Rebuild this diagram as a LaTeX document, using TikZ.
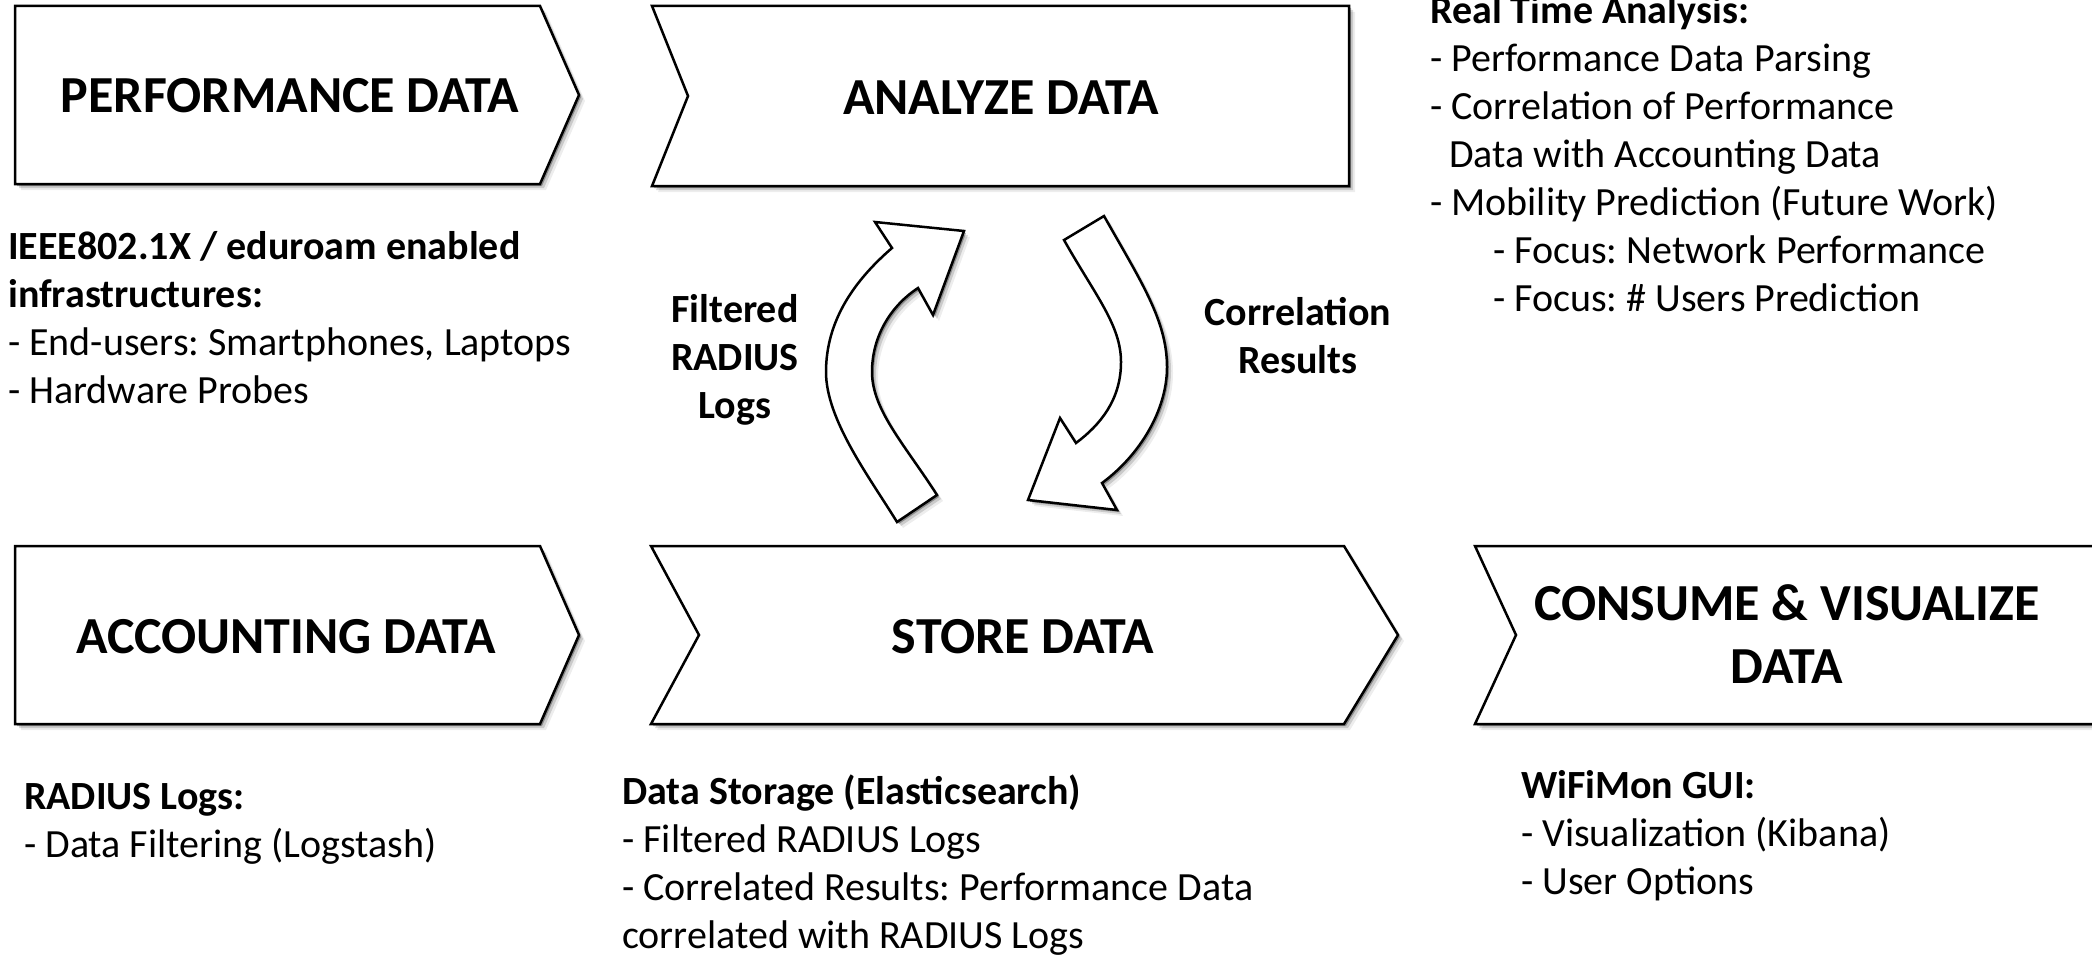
\documentclass[tikz,border=0pt]{standalone}
\usepackage{fontspec}
\setmainfont{Carlito}
\usetikzlibrary{shadows}
\frenchspacing
\newcommand{\mybody}{\fontsize{40}{48}\selectfont}
\newcommand{\mytitle}{\fontsize{52}{63}\selectfont\bfseries}
\begin{document}
\begin{tikzpicture}[x=1pt,y=-1pt,
  softshadow/.style={
    drop shadow={shadow xshift=2pt,shadow yshift=-2pt,opacity=.30,fill=black},
    drop shadow={shadow xshift=4pt,shadow yshift=-4pt,opacity=.15,fill=black},
    drop shadow={shadow xshift=6pt,shadow yshift=-6pt,opacity=.07,fill=black}},
  chev/.style={draw=black, line width=2.5pt, fill=white, line join=miter, softshadow},
  blockarrow/.style={draw=black, line width=2.5pt, fill=white, line join=miter, softshadow},
  title/.style={font=\mytitle, inner sep=0pt},
  body/.style={font=\mybody, inner sep=0pt, align=left, anchor=north west},
  lab/.style={font=\mybody\bfseries, inner sep=0pt, align=center, anchor=north},
]
\useasboundingbox (0,0) rectangle (2092,955);
\clip (0,0) rectangle (2092,955);

% chevron shapes
\draw[chev] (15,6) -- (540,6) -- (579,95) -- (540,184) -- (15,184) -- cycle;
\draw[chev] (652,6) -- (1349,6) -- (1349,186) -- (652,186) -- (688,96) -- cycle;
\draw[chev] (15,546) -- (540,546) -- (579,635) -- (540,724) -- (15,724) -- cycle;
\draw[chev] (651,546) -- (1344,546) -- (1398,635) -- (1344,724) -- (651,724) -- (699,635) -- cycle;
\draw[chev] (1475,546) -- (2120,546) -- (2120,724) -- (1475,724) -- (1516,635) -- cycle;

% titles
\node[title, anchor=base] (tperf) at (290,113) {PERFORMANCE DATA};
\node[title, anchor=base] (tana) at (1001,115) {ANALYZE DATA};
\node[title, anchor=base] (tacc) at (286,653) {ACCOUNTING DATA};
\node[title, anchor=base] (tsto) at (1023,653) {STORE DATA};
\node[title, anchor=north, align=center] (tcon) at (1787,575.9) {\strut CONSUME \& VISUALIZE\\DATA};

% curved block arrows
\draw[blockarrow] (897,522) .. controls (870,478) and (826,420) .. (826,372)
  .. controls (826,320) and (855,280) .. (892,248) -- (875,222) -- (964,231) -- (933,315) -- (918,288)
  .. controls (892,305) and (872,335) .. (872,372)
  .. controls (872,410) and (905,445) .. (937,495) -- cycle;
\draw[blockarrow] (1104,216) .. controls (1140,280) and (1167,320) .. (1167,367)
  .. controls (1167,410) and (1140,455) .. (1102,483) -- (1117,510) -- (1028,500) -- (1060,418) -- (1076,443)
  .. controls (1100,425) and (1121,400) .. (1121,362)
  .. controls (1121,325) and (1095,295) .. (1064,240) -- cycle;

% arrow labels
\node[lab] (lfilt) at (735,288.4) {\strut Filtered\\RADIUS\\Logs};
\node[lab] (lcorr) at (1298,291.4) {\strut Correlation\\Results};

% description texts
\node[body] (drta) at (1430,-10.6) {\strut\textbf{Real Time Analysis:}\\- Performance Data Parsing\\- Correlation of Performance\\\hspace*{19pt}Data with Accounting Data\\- Mobility Prediction (Future Work)\\\hspace*{63pt}- Focus: Network Performance\\\hspace*{63pt}- Focus: \# Users Prediction};
\node[body] (dieee) at (8,225.4) {\strut\textbf{IEEE802.1X / eduroam enabled}\\\textbf{infrastructures:}\\- End-users: Smartphones, Laptops\\- Hardware Probes};
\node[body] (drad) at (24,775.4) {\strut\textbf{RADIUS Logs:}\\- Data Filtering (Logstash)};
\node[body] (dsto) at (622,770.4) {\strut\textbf{Data Storage (Elasticsearch)}\\- Filtered RADIUS Logs\\- Correlated Results: Performance Data\\correlated with RADIUS Logs};
\node[body] (dgui) at (1521,764.4) {\strut\textbf{WiFiMon GUI:}\\- Visualization (Kibana)\\- User Options};
\end{tikzpicture}
\end{document}
